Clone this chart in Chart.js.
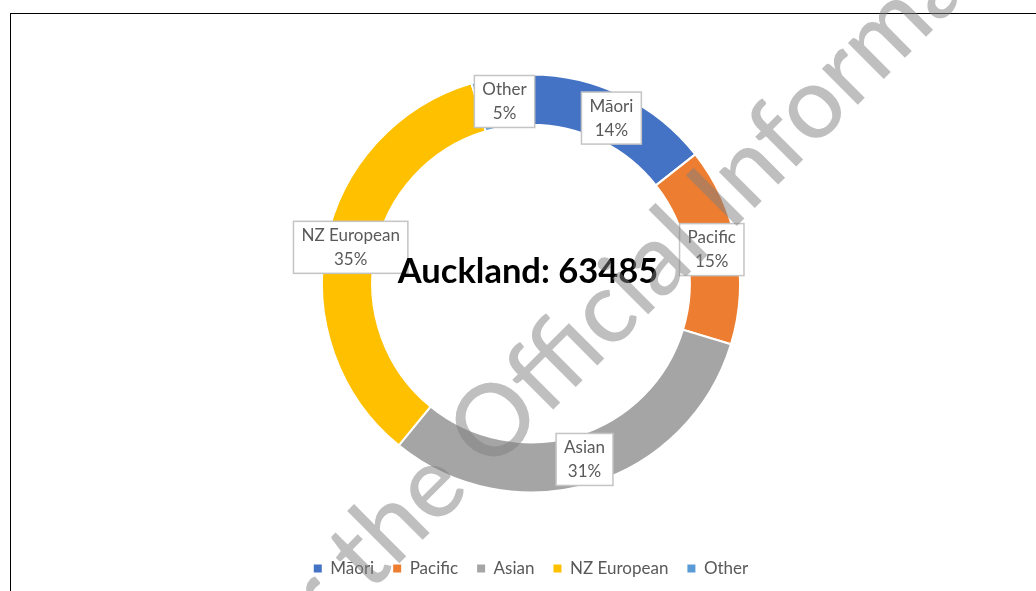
<!DOCTYPE html>
<html>
<head>
<meta charset="utf-8">
<script src="https://cdn.jsdelivr.net/npm/chart.js@4.4.1/dist/chart.umd.min.js"></script>
<style>
  html, body { margin: 0; padding: 0; background: #fff; overflow: hidden; }
  #frame { position: absolute; left: 10px; top: 13px; width: 1040px; height: 600px; border: 1px solid #000; box-sizing: border-box; }
  #chart { position: absolute; left: 0; top: 0; }
</style>
</head>
<body>
<div id="frame"></div>
<canvas id="chart" width="1036" height="591"></canvas>
<script>
// Ethnicity breakdown for Auckland (shares in %, labels show them rounded)
const placeName = 'Auckland';
const totalCount = 63485;
const categories = ['Māori', 'Pacific', 'Asian', 'NZ European', 'Other'];
const shares = [14.4, 15.3, 31.2, 34.5, 4.6];
const colours = ['#4472C4', '#ED7D31', '#A5A5A5', '#FFC000', '#5B9BD5'];
const watermarkText = 'Released under the Official Information Act';

const labelFont = '17px Lato';
const textGrey = '#595959';

// Boxed "name / %" labels sitting on the middle of each arc
const boxLabels = {
    id: 'boxLabels',
    afterDatasetsDraw(chart) {
        const ctx = chart.ctx;
        const meta = chart.getDatasetMeta(0);
        ctx.save();
        ctx.font = labelFont;
        ctx.textAlign = 'center';
        ctx.textBaseline = 'middle';
        meta.data.forEach((arc, i) => {
            const p = arc.getCenterPoint();
            const lines = [categories[i], Math.round(shares[i]) + '%'];
            const w = Math.max(...lines.map(l => ctx.measureText(l).width)) + 16;
            const h = 52;
            ctx.fillStyle = '#fff';
            ctx.fillRect(p.x - w / 2, p.y - h / 2, w, h);
            ctx.strokeStyle = '#c4c4c4';
            ctx.lineWidth = 1.5;
            ctx.strokeRect(p.x - w / 2, p.y - h / 2, w, h);
            ctx.fillStyle = textGrey;
            ctx.fillText(lines[0], p.x, p.y - 12);
            ctx.fillText(lines[1], p.x, p.y + 12);
        });
        ctx.restore();

        // centre title, drawn over the labels
        const arc0 = meta.data[0];
        ctx.save();
        ctx.font = 'bold 34.5px Lato';
        ctx.fillStyle = '#000';
        ctx.textAlign = 'center';
        ctx.textBaseline = 'middle';
        ctx.fillText(placeName + ': ' + totalCount, arc0.x - 3, arc0.y - 12);
        ctx.restore();
    },
    afterDraw(chart) {
        // diagonal release watermark
        const ctx = chart.ctx;
        ctx.save();
        ctx.font = '500 100px Lato';
        const pre = ctx.measureText('Released under the ').width;
        const oW = ctx.measureText('O').width;
        ctx.translate(495, 422);
        ctx.rotate(-45 * Math.PI / 180);
        ctx.fillStyle = 'rgba(128,128,128,0.5)';
        ctx.textBaseline = 'middle';
        ctx.fillText(watermarkText, -(pre + oW / 2), 0);
        ctx.restore();
    }
};

const ctx = document.getElementById('chart').getContext('2d');
const defaultLabels = Chart.overrides.doughnut.plugins.legend.labels.generateLabels;

const donut = new Chart(ctx, {
    type: 'doughnut',
    data: {
        labels: categories,
        datasets: [{
            data: shares,
            backgroundColor: colours,
            borderColor: '#fff',
            borderWidth: 2
        }]
    },
    options: {
        responsive: false,
        animation: false,
        devicePixelRatio: 1,
        radius: 209,
        cutout: '76%',
        layout: {
            padding: { top: 26, left: 26, right: 0, bottom: 4 }
        },
        plugins: {
            tooltip: { enabled: false },
            legend: {
                position: 'bottom',
                labels: {
                    boxWidth: 8,
                    boxHeight: 8,
                    padding: 19,
                    color: textGrey,
                    font: { family: 'Lato', size: 17 },
                    generateLabels(chart) {
                        return defaultLabels(chart).map(l => Object.assign(l, { lineWidth: 0 }));
                    }
                }
            }
        }
    },
    plugins: [boxLabels]
});
</script>
</body>
</html>
